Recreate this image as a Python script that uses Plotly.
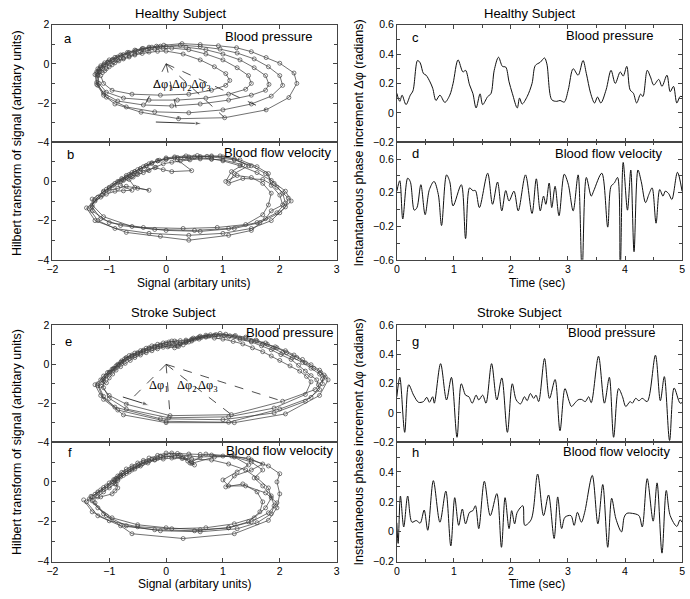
import plotly.graph_objects as go

W, H = 690, 599

# ---------------- Phase portraits (signal, Hilbert transform) ----------------
A_PTS = [  # Healthy, blood pressure
    (-1.15,-0.6),(-1.1,-1.0),(-0.95,-1.35),(-0.6,-1.55),(-0.1,-1.6),(0.4,-1.55),(0.8,-1.35),(1.05,-1.1),(1.12,-0.85),(1.05,-0.5),(0.85,-0.15),(0.6,0.2),(0.3,0.5),(0.0,0.65),(-0.15,0.64),(-0.3,0.6),(-0.42,0.53),(-0.55,0.45),(-0.65,0.35),(-0.75,0.25),(-0.83,0.15),(-0.9,0.05),(-0.95,-0.05),(-1.0,-0.15),(-1.05,-0.25),(-1.08,-0.35),(-1.12,-0.45),
    (-1.2,-0.55),(-1.18,-1.0),(-1.05,-1.45),(-0.75,-1.75),(-0.3,-1.85),(0.2,-1.85),(0.7,-1.75),(1.1,-1.55),(1.4,-1.3),(1.5,-1.0),(1.45,-0.6),(1.25,-0.2),(1.0,0.2),(0.7,0.5),(0.4,0.72),(0.1,0.8),(-0.05,0.79),(-0.2,0.75),(-0.33,0.68),(-0.45,0.6),(-0.55,0.5),(-0.65,0.4),(-0.75,0.3),(-0.85,0.2),(-0.93,0.1),(-1.0,0.0),(-1.06,-0.12),(-1.12,-0.25),(-1.17,-0.4),
    (-1.22,-0.5),(-1.22,-0.95),(-1.1,-1.5),(-0.85,-1.9),(-0.4,-2.1),(0.1,-2.15),(0.6,-2.05),(1.1,-1.85),(1.5,-1.6),(1.75,-1.35),(1.81,-1.05),(1.75,-0.6),(1.55,-0.2),(1.3,0.2),(1.0,0.5),(0.7,0.72),(0.35,0.85),(0.0,0.88),(-0.15,0.85),(-0.3,0.8),(-0.43,0.72),(-0.55,0.62),(-0.67,0.52),(-0.78,0.42),(-0.87,0.31),(-0.95,0.2),(-1.03,0.08),(-1.1,-0.05),(-1.15,-0.17),(-1.18,-0.28),(-1.2,-0.4),
    (-1.2,-0.6),(-1.2,-1.1),(-1.05,-1.7),(-0.7,-2.2),(-0.2,-2.45),(0.4,-2.5),(1.0,-2.35),(1.5,-2.05),(1.85,-1.65),(2.05,-1.1),(2.0,-0.6),(1.8,-0.15),(1.55,0.25),(1.25,0.55),(0.95,0.75),(0.6,0.88),(0.25,0.95),(-0.1,0.9),(-0.25,0.85),(-0.4,0.78),(-0.53,0.68),(-0.65,0.58),(-0.75,0.47),(-0.85,0.35),(-0.94,0.22),(-1.02,0.1),(-1.09,-0.05),(-1.15,-0.2),(-1.18,-0.38),
    (-1.25,-0.55),(-1.22,-1.05),(-1.1,-1.6),(-0.9,-2.05),(-0.44,-2.47),(0.22,-2.8),(1.03,-2.75),(1.76,-2.35),(2.16,-1.72),(2.3,-1.0),(2.25,-0.47),(2.0,0.03),(1.76,0.32),(1.5,0.62),(1.24,0.82),(0.92,0.92),(0.6,0.98),(0.28,1.03),(-0.04,0.95),(-0.17,0.9),(-0.3,0.85),(-0.42,0.78),(-0.55,0.7),(-0.68,0.58),(-0.8,0.45),(-0.9,0.33),(-1.0,0.2),(-1.08,0.05),(-1.15,-0.1),(-1.2,-0.25),(-1.22,-0.4),
]
B_PTS = [  # Healthy, blood flow velocity
    (-1.3,-1.3),(-1.15,-1.9),(-0.8,-2.25),(-0.2,-2.45),(0.5,-2.5),(1.1,-2.4),(1.6,-2.1),(1.95,-1.6),(2.1,-1.1),(2.05,-0.6),(1.9,-0.1),(1.75,0.4),(1.5,0.8),(1.2,1.1),(0.8,1.25),(0.6,1.27),(0.4,1.25),(0.2,1.22),(0.0,1.15),(-0.15,1.05),(-0.3,0.9),(-0.4,0.75),(-0.5,0.6),(-0.6,0.45),(-0.7,0.3),(-0.78,0.15),(-0.85,0.0),(-0.92,-0.18),(-1.0,-0.35),(-1.1,-0.55),(-1.2,-0.8),
    (-1.35,-1.4),(-1.2,-2.0),(-0.9,-2.4),(-0.3,-2.65),(0.4,-2.75),(1.0,-2.65),(1.5,-2.4),(1.85,-2.0),(2.1,-1.3),(2.15,-0.85),(1.95,-0.3),(1.7,0.1),(1.35,0.15),(1.1,-0.1),(1.2,0.4),(1.45,0.8),(1.2,1.15),(1.0,1.25),(0.8,1.3),(0.55,1.32),(0.35,1.3),(0.15,1.25),(0.0,1.2),(-0.12,1.08),(-0.25,0.95),(-0.35,0.8),(-0.45,0.65),(-0.55,0.5),(-0.65,0.35),(-0.7,0.22),(-0.75,0.1),(-0.82,0.0),(-0.9,-0.1),(-1.0,-0.3),(-1.1,-0.5),(-1.25,-0.95),
    (-1.3,-1.2),(-1.1,-1.8),(-0.6,-2.3),(0.0,-2.5),(0.6,-2.55),(1.2,-2.4),(1.65,-2.1),(2.0,-1.6),(2.2,-1.0),(2.1,-0.5),(1.85,0.05),(1.6,0.45),(1.3,0.8),(1.0,1.05),(0.8,1.15),(0.6,1.2),(0.4,1.15),(0.2,1.1),(0.45,0.55),(0.1,0.5),(-0.05,0.6),(-0.2,0.7),(-0.32,0.6),(-0.45,0.5),(-0.52,0.38),(-0.6,0.25),(-0.68,0.15),(-0.75,0.05),(-0.8,-0.2),(-0.6,-0.45),(-0.75,-0.48),(-0.9,-0.5),(-1.05,-0.65),(-1.15,-0.8),
    (-1.4,-1.35),(-1.25,-2.0),(-0.7,-2.6),(-0.1,-2.8),(0.4,-3.0),(1.1,-2.75),(1.5,-2.5),(1.75,-1.9),(1.85,-1.5),(2.05,-1.2),(2.0,-0.7),(1.85,-0.2),(1.8,0.4),(1.6,0.75),(1.3,1.1),(0.95,1.3),(0.72,1.28),(0.5,1.25),(0.32,1.22),(0.15,1.2),(0.0,1.12),(-0.15,1.05),(-0.25,0.92),(-0.35,0.8),(-0.45,0.65),(-0.55,0.5),(-0.62,0.35),(-0.7,0.2),(-0.78,0.08),(-0.85,-0.05),(-0.95,-0.22),(-1.05,-0.4),(-1.3,-0.9),
    (-1.3,-1.5),(-1.0,-2.1),(-0.4,-2.35),(0.3,-2.4),(0.9,-2.35),(1.4,-2.2),(1.7,-1.7),(1.8,-1.2),(1.85,-0.6),(1.7,-0.1),(1.5,0.2),(1.25,0.3),(1.05,0.0),(1.15,0.5),(1.35,0.85),(1.0,1.1),(0.8,1.13),(0.6,1.15),(0.42,1.1),(0.25,1.05),(0.1,0.98),(-0.05,0.9),(-0.18,0.72),(-0.3,0.55),(-0.4,0.45),(-0.5,0.35),(-0.58,0.22),(-0.65,0.1),(-0.55,-0.3),(-0.3,-0.45),(-0.5,-0.35),(-0.7,-0.25),(-0.85,-0.35),(-1.0,-0.45),(-1.12,-0.7),(-1.25,-1.0),
]
E_PTS = [  # Stroke, blood pressure
    (-1.15,-1.1),(-1.0,-1.6),(-0.7,-2.05),(0.07,-2.64),(1.15,-2.59),(2.05,-1.9),(2.62,-1.3),(2.8,-0.65),(2.72,-0.42),(2.6,-0.2),(2.45,0.08),(2.3,0.35),(2.12,0.6),(1.95,0.85),(1.78,1.03),(1.6,1.2),(1.4,1.33),(1.2,1.45),(1.02,1.48),(0.85,1.5),(0.7,1.43),(0.55,1.35),(0.45,1.25),(0.35,1.15),(0.2,0.95),(0.12,1.0),(0.05,1.05),(-0.05,0.98),(-0.15,0.9),(-0.25,0.8),(-0.35,0.7),(-0.45,0.58),(-0.55,0.45),(-0.65,0.3),(-0.75,0.15),(-0.83,-0.02),(-0.9,-0.2),(-0.98,-0.4),(-1.05,-0.6),(-1.1,-0.85),
    (-1.2,-1.0),(-1.1,-1.65),(-0.85,-2.35),(0.0,-2.93),(1.1,-2.98),(2.0,-2.3),(2.55,-1.7),(2.75,-1.0),(2.75,-0.75),(2.7,-0.5),(2.55,-0.2),(2.4,0.1),(2.22,0.35),(2.05,0.6),(1.88,0.83),(1.7,1.05),(1.5,1.2),(1.3,1.35),(1.12,1.47),(0.95,1.59),(0.78,1.52),(0.6,1.45),(0.48,1.35),(0.35,1.25),(0.25,1.22),(0.15,1.2),(0.05,1.15),(-0.05,1.1),(-0.15,1.03),(-0.25,0.95),(-0.35,0.83),(-0.45,0.7),(-0.55,0.58),(-0.65,0.45),(-0.73,0.28),(-0.8,0.1),(-0.88,-0.08),(-0.95,-0.25),(-1.03,-0.42),(-1.1,-0.6),(-1.15,-0.8),
    (-1.25,-1.05),(-1.15,-1.6),(-0.9,-2.2),(-0.1,-2.8),(1.0,-2.85),(1.9,-2.5),(2.45,-1.9),(2.7,-1.3),(2.68,-1.05),(2.65,-0.8),(2.55,-0.58),(2.45,-0.35),(2.33,-0.05),(2.2,0.25),(2.02,0.5),(1.85,0.75),(1.68,0.95),(1.5,1.15),(1.3,1.28),(1.1,1.4),(0.92,1.43),(0.75,1.45),(0.62,1.38),(0.5,1.3),(0.4,1.15),(0.3,1.0),(0.22,0.92),(0.15,0.85),(0.03,0.9),(-0.1,0.95),(-0.2,0.88),(-0.3,0.8),(-0.4,0.68),(-0.5,0.55),(-0.6,0.42),(-0.7,0.3),(-0.78,0.12),(-0.85,-0.05),(-0.93,-0.25),(-1.0,-0.45),(-1.1,-0.75),
    (-1.1,-1.2),(-1.0,-1.75),(-0.7,-2.3),(0.05,-2.75),(1.1,-2.7),(1.9,-2.25),(2.45,-1.55),(2.55,-0.9),(2.47,-0.62),(2.35,-0.35),(2.18,-0.08),(2.0,0.2),(1.85,0.43),(1.7,0.65),(1.52,0.85),(1.35,1.05),(1.18,1.18),(1.0,1.3),(0.85,1.35),(0.7,1.4),(0.58,1.3),(0.45,1.2),(0.35,1.12),(0.25,1.05),(0.15,1.0),(0.05,0.95),(-0.05,0.88),(-0.15,0.8),(-0.25,0.7),(-0.35,0.6),(-0.45,0.48),(-0.55,0.35),(-0.63,0.2),(-0.72,0.05),(-0.8,-0.12),(-0.88,-0.3),(-0.94,-0.5),(-1.0,-0.7),(-1.05,-0.95),
    (-1.2,-1.1),(-1.1,-1.8),(-0.75,-2.6),(0.0,-3.0),(1.2,-3.0),(2.1,-2.55),(2.7,-1.6),(2.85,-0.8),(2.78,-0.55),(2.7,-0.3),(2.55,-0.02),(2.4,0.25),(2.25,0.48),(2.1,0.7),(1.92,0.9),(1.75,1.1),(1.58,1.25),(1.4,1.4),(1.22,1.48),(1.05,1.55),(0.88,1.53),(0.7,1.5),(0.58,1.4),(0.45,1.3),(0.35,1.2),(0.25,1.1),(0.18,1.15),(0.1,1.2),(0.0,1.1),(-0.1,1.0),(-0.2,0.93),(-0.3,0.85),(-0.4,0.73),(-0.5,0.6),(-0.6,0.48),(-0.7,0.35),(-0.78,0.18),(-0.85,0.0),(-0.92,-0.2),(-1.0,-0.4),(-1.06,-0.6),(-1.12,-0.8),
]
F_PTS = [  # Stroke, blood flow velocity
    (-1.45,-0.9),(-1.3,-1.5),(-1.0,-1.95),(-0.5,-2.25),(0.1,-2.35),(0.7,-2.3),(1.2,-2.1),(1.55,-1.8),(1.75,-1.3),(1.85,-0.8),(1.8,-0.3),(1.6,0.2),(1.4,0.6),(1.1,0.9),(0.8,1.1),(0.45,1.15),(0.28,1.18),(0.1,1.2),(-0.05,1.15),(-0.2,1.1),(-0.32,0.95),(-0.45,0.8),(-0.55,0.65),(-0.65,0.5),(-0.75,0.33),(-0.85,0.15),(-0.92,-0.02),(-1.0,-0.2),(-1.1,-0.38),(-1.2,-0.55),(-1.32,-0.72),
    (-1.4,-1.0),(-1.2,-1.7),(-0.8,-2.2),(-0.2,-2.4),(0.5,-2.45),(1.1,-2.3),(1.5,-2.0),(1.8,-1.55),(1.95,-1.05),(1.75,-0.55),(1.4,-0.2),(1.1,-0.2),(1.0,0.1),(1.25,0.5),(1.45,0.85),(1.2,1.25),(0.8,1.35),(0.6,1.38),(0.4,1.4),(0.2,1.43),(0.0,1.45),(-0.15,1.33),(-0.3,1.2),(-0.4,1.08),(-0.5,0.95),(-0.6,0.8),(-0.7,0.65),(-0.78,0.48),(-0.85,0.3),(-0.92,0.12),(-1.0,-0.05),(-1.1,-0.28),(-1.2,-0.5),(-1.3,-0.75),
    (-1.3,-0.95),(-1.1,-1.6),(-0.6,-2.6),(0.3,-2.84),(1.2,-2.6),(1.8,-1.93),(1.95,-1.3),(2.0,-0.6),(1.95,0.0),(2.0,0.41),(1.8,0.8),(1.5,1.1),(1.2,1.3),(0.85,1.25),(0.45,0.93),(0.38,1.05),(0.3,1.2),(0.15,1.25),(0.0,1.3),(-0.15,1.18),(-0.3,1.05),(-0.42,0.9),(-0.55,0.75),(-0.65,0.6),(-0.75,0.45),(-0.82,0.28),(-0.9,0.1),(-0.88,-0.1),(-0.85,-0.3),(-0.9,-0.45),(-0.95,-0.6),(-1.15,-0.75),
    (-1.35,-0.85),(-1.2,-1.3),(-0.95,-1.8),(-0.5,-2.15),(0.0,-2.3),(0.6,-2.4),(1.1,-2.3),(1.45,-2.0),(1.65,-1.5),(1.7,-1.0),(1.6,-0.5),(1.35,-0.1),(1.05,-0.25),(1.2,0.3),(1.5,0.6),(1.7,0.9),(1.45,1.2),(1.0,1.3),(0.6,1.25),(0.42,1.3),(0.25,1.35),(0.1,1.3),(-0.05,1.25),(-0.2,1.12),(-0.35,1.0),(-0.48,0.85),(-0.6,0.7),(-0.7,0.52),(-0.8,0.35),(-0.88,0.18),(-0.95,0.0),(-1.05,-0.2),(-1.15,-0.4),(-1.25,-0.62),
    (-1.25,-1.05),(-1.05,-1.7),(-0.7,-2.2),(-0.1,-2.45),(0.6,-2.5),(1.25,-2.35),(1.6,-2.05),(1.85,-1.6),(1.9,-1.2),(1.85,-0.7),(1.7,-0.2),(1.55,0.2),(1.7,0.6),(1.5,1.0),(1.15,1.3),(0.7,1.4),(0.45,1.0),(0.5,0.85),(0.42,0.95),(0.35,1.2),(0.22,1.33),(0.1,1.45),(-0.1,1.3),(-0.25,1.15),(-0.4,1.0),(-0.5,0.8),(-0.6,0.6),(-0.7,0.42),(-0.8,0.25),(-0.85,0.08),(-0.9,-0.1),(-1.0,-0.3),(-1.1,-0.5),(-1.2,-0.75),
]

# radial dashed lines (phase increments) from the origin to successive samples
A_RAY_X = [-0.44, 0.22, 1.03, 1.76]
A_RAY_Y = [-2.47, -2.80, -2.75, -2.35]
E_RAY_X = [-0.70, 0.07, 1.15, 2.05]
E_RAY_Y = [-2.05, -2.64, -2.59, -1.90]

# direction-of-rotation arrows (tail, head)
A_ARROW_X = [-0.18, 0.63]
A_ARROW_Y = [-2.97, -3.05]
E_ARROW_X = [-0.76, -0.30]
E_ARROW_Y = [-1.68, -2.10]

# ---------------- Instantaneous phase increments vs time ----------------
C_T = [0.000,0.052,0.092,0.161,0.236,0.283,0.363,0.409,0.467,0.513,0.582,0.629,0.686,0.755,0.842,0.928,0.986,1.073,1.159,1.205,1.275,1.332,1.390,1.459,1.505,1.592,1.649,1.707,1.782,1.851,1.909,1.967,2.024,2.111,2.151,2.197,2.284,2.370,2.428,2.514,2.589,2.630,2.716,2.803,2.860,2.935,3.005,3.091,3.178,3.264,3.322,3.397,3.466,3.518,3.576,3.668,3.755,3.829,3.916,3.968,4.031,4.089,4.147,4.204,4.273,4.314,4.389,4.446,4.504,4.591,4.648,4.735,4.792,4.850,4.908,4.965,5.000]
C_V = [0.133,0.078,0.12,0.056,0.12,0.15,0.356,0.34,0.267,0.256,0.21,0.167,0.084,0.12,0.071,0.12,0.2,0.36,0.278,0.289,0.19,0.133,0.033,0.129,0.056,0.11,0.13,0.289,0.378,0.316,0.311,0.211,0.133,0.033,0.1,0.06,0.11,0.2,0.322,0.344,0.373,0.333,0.089,0.078,0.084,0.073,0.156,0.3,0.256,0.356,0.267,0.133,0.067,0.107,0.067,0.156,0.289,0.2,0.278,0.25,0.316,0.156,0.133,0.067,0.127,0.111,0.289,0.244,0.189,0.227,0.18,0.256,0.144,0.18,0.067,0.111,0.11]

D_T = [0.000,0.052,0.104,0.190,0.236,0.306,0.352,0.421,0.496,0.571,0.652,0.727,0.784,0.871,0.928,0.986,1.130,1.205,1.275,1.332,1.378,1.447,1.592,1.678,1.765,1.840,1.909,1.967,2.053,2.128,2.255,2.370,2.445,2.514,2.572,2.612,2.670,2.716,2.774,2.843,2.935,3.005,3.091,3.178,3.247,3.322,3.408,3.449,3.593,3.697,3.755,3.812,3.870,3.916,3.968,4.043,4.101,4.158,4.227,4.285,4.360,4.418,4.475,4.544,4.608,4.666,4.706,4.763,4.821,4.919,5.000]
D_V = [0.217,0.341,-0.114,0.372,0.33,-0.009,0.02,0.294,-0.063,0.236,0.333,0.178,-0.192,0.411,0.33,0.042,0.294,-0.347,0.256,0.224,0.224,0.022,0.431,0.061,0.326,-0.017,0.224,0.1,0.217,-0.017,0.411,-0.048,0.364,-0.017,0.158,0.061,0.314,0.022,0.275,-0.075,0.419,0.3,-0.017,0.411,-0.75,0.38,0.158,0.217,0.431,-0.211,0.275,0.314,0.38,-0.75,0.559,-0.009,0.469,-0.503,0.469,0.33,0.081,0.178,0.256,-0.164,0.236,0.158,0.217,0.19,0.119,0.442,0.217]

G_T = [0.000,0.052,0.138,0.208,0.294,0.381,0.467,0.525,0.571,0.629,0.657,0.767,0.871,0.957,1.055,1.130,1.205,1.263,1.321,1.390,1.436,1.505,1.563,1.661,1.753,1.840,1.938,2.024,2.093,2.168,2.238,2.284,2.341,2.399,2.439,2.486,2.589,2.676,2.774,2.860,2.947,3.022,3.062,3.120,3.178,3.235,3.304,3.362,3.408,3.535,3.639,3.725,3.800,3.887,3.956,4.014,4.089,4.129,4.187,4.244,4.302,4.389,4.533,4.619,4.689,4.781,4.861,4.965,5.000]
G_V = [0.111,0.244,-0.133,0.193,0.122,0.073,0.078,0.107,0.073,0.111,0.067,0.338,0.089,0.244,-0.167,0.2,0.122,0.111,0.067,0.122,0.089,0.122,0.067,0.338,0.089,0.24,-0.133,0.2,0.089,0.062,0.111,0.084,0.133,0.1,0.122,0.078,0.373,0.1,0.229,-0.122,0.167,0.078,0.044,0.067,0.09,0.093,0.078,0.111,0.071,0.389,0.067,0.244,-0.167,0.167,0.111,0.044,0.078,0.067,0.1,0.084,0.1,0.078,0.396,0.084,0.249,-0.189,0.171,0.067,0.071]

H_T = [0.000,0.023,0.063,0.121,0.190,0.265,0.340,0.409,0.479,0.542,0.640,0.755,0.859,0.946,1.015,1.084,1.148,1.205,1.275,1.332,1.378,1.436,1.534,1.638,1.753,1.834,1.897,1.967,2.013,2.065,2.111,2.209,2.243,2.353,2.468,2.572,2.659,2.757,2.820,2.889,2.947,3.051,3.108,3.166,3.235,3.293,3.426,3.524,3.610,3.697,3.766,3.841,3.939,3.985,4.031,4.129,4.244,4.302,4.389,4.493,4.562,4.648,4.723,4.792,4.908,4.965,5.000]
H_V = [0.06,-0.078,0.239,0.032,0.239,0.064,0.075,0.058,0.145,0.01,0.342,0.064,0.272,-0.095,0.228,0.043,0.152,0.053,0.13,0.141,0.174,0.021,0.338,0.108,0.255,-0.104,0.228,0.021,0.141,0.053,0.13,0.174,0.043,0.08,0.386,0.108,0.246,-0.045,0.233,0.021,0.097,0.108,0.043,0.13,0.064,0.13,0.377,0.053,0.316,-0.104,0.224,0.086,-0.001,0.097,0.123,0.123,0.108,0.032,0.355,0.071,0.327,-0.143,0.276,0.108,0.036,0.08,0.064]

FONT = "Liberation Sans, Arial, Helvetica, sans-serif"
SERIF = "Liberation Serif, Times New Roman, serif"


def px(x):
    return x / W


def py(y):
    return 1 - y / H


fig = go.Figure()

LEFT_X = (47, 335)
RIGHT_X = (396, 685)
ROWS = {"a": (19, 139), "b": (139, 259), "e": (326, 445), "f": (445, 567),
        "c": (19, 139), "d": (139, 259), "g": (326, 445), "h": (445, 567)}
axis_ids = {"a": 1, "b": 2, "c": 3, "d": 4, "e": 5, "f": 6, "g": 7, "h": 8}


def ref(k, kind):
    n = axis_ids[k]
    return kind if n == 1 else f"{kind}{n}"


def lname(k, kind):
    n = axis_ids[k]
    return f"{kind}axis" if n == 1 else f"{kind}axis{n}"


base = dict(showline=True, mirror="ticks", linecolor="#444", linewidth=1,
            ticks="inside", ticklen=4, tickcolor="#444", showgrid=False,
            zeroline=False, tickfont=dict(family=FONT, size=10.5, color="black"))

layout_axes = {}
for k in "abef":
    top, bot = ROWS[k]
    xa = dict(base, domain=[px(LEFT_X[0]), px(LEFT_X[1])], range=[-2, 3],
              tickvals=[-2, -1, 0, 1, 2, 3], anchor=ref(k, "y"),
              showticklabels=k in "bf")
    yv = [-4, -2, 0, 2] if k in "ae" else [-4, -2, 0]
    ya = dict(base, domain=[py(bot), py(top)], range=[-4, 2], tickvals=yv,
              anchor=ref(k, "x"),
              minor=dict(tickvals=[-3, -1, 1], ticks="inside", ticklen=3, tickcolor="#444"))
    layout_axes[lname(k, "x")] = xa
    layout_axes[lname(k, "y")] = ya

for k in "cdgh":
    top, bot = ROWS[k]
    xa = dict(base, domain=[px(RIGHT_X[0]), px(RIGHT_X[1])], range=[0, 5],
              tickvals=[0, 1, 2, 3, 4, 5], anchor=ref(k, "y"),
              showticklabels=k in "dh",
              minor=dict(tickvals=[0.5, 1.5, 2.5, 3.5, 4.5], ticks="inside", ticklen=3, tickcolor="#444"))
    if k == "d":
        yr, yv, ym = [-0.6, 0.8], [-0.6, -0.2, 0.2, 0.6], [-0.4, 0, 0.4]
    elif k == "h":
        yr, yv, ym = [-0.2, 0.6], [-0.2, 0, 0.2, 0.4], [-0.1, 0.1, 0.3, 0.5]
    else:
        yr, yv, ym = [-0.2, 0.6], [-0.2, 0, 0.2, 0.4, 0.6], [-0.1, 0.1, 0.3, 0.5]
    ya = dict(base, domain=[py(bot), py(top)], range=yr, tickvals=yv,
              ticktext=[f"{v:g}".replace("-", "\u2212") for v in yv],
              anchor=ref(k, "x"),
              minor=dict(tickvals=ym, ticks="inside", ticklen=3, tickcolor="#444"))
    layout_axes[lname(k, "x")] = xa
    layout_axes[lname(k, "y")] = ya

# phase portraits
for k, pts in (("a", A_PTS), ("b", B_PTS), ("e", E_PTS), ("f", F_PTS)):
    xs = [p[0] for p in pts]
    ys = [p[1] for p in pts]
    fig.add_trace(go.Scatter(
        x=xs, y=ys, mode="lines+markers", xaxis=ref(k, "x"), yaxis=ref(k, "y"),
        line=dict(color="#333", width=0.7),
        marker=dict(symbol="circle-open", size=4, color="#444", line=dict(width=0.7)),
        showlegend=False, hoverinfo="skip"))

for k, rx, ry in (("a", A_RAY_X, A_RAY_Y), ("e", E_RAY_X, E_RAY_Y)):
    for xx, yy in zip(rx, ry):
        fig.add_trace(go.Scatter(
            x=[0, xx], y=[0, yy], mode="lines", xaxis=ref(k, "x"), yaxis=ref(k, "y"),
            line=dict(color="#222", width=0.8, dash="dash"),
            showlegend=False, hoverinfo="skip"))

for k, ax_, ay_ in (("a", A_ARROW_X, A_ARROW_Y), ("e", E_ARROW_X, E_ARROW_Y)):
    fig.add_trace(go.Scatter(
        x=ax_, y=ay_, mode="lines+markers", xaxis=ref(k, "x"), yaxis=ref(k, "y"),
        line=dict(color="#222", width=0.9),
        marker=dict(symbol="arrow", size=[0, 7], angleref="previous", color="#222"),
        showlegend=False, hoverinfo="skip"))

# phase increment series
for k, t, v in (("c", C_T, C_V), ("d", D_T, D_V), ("g", G_T, G_V), ("h", H_T, H_V)):
    fig.add_trace(go.Scatter(
        x=t, y=v, mode="lines", xaxis=ref(k, "x"), yaxis=ref(k, "y"),
        line=dict(color="#111", width=1, shape="spline", smoothing=0.9),
        showlegend=False, hoverinfo="skip"))

ann = []


def text(xp, yp, s, size=13, xanchor="center", angle=0, family=FONT):
    ann.append(dict(x=px(xp), y=py(yp), xref="paper", yref="paper", text=s,
                    showarrow=False, xanchor=xanchor, yanchor="middle",
                    textangle=angle, font=dict(family=family, size=size, color="black")))


text(177, 8, "Healthy Subject")
text(530, 8, "Healthy Subject")
text(170, 313, "Stroke Subject")
text(520, 313, "Stroke Subject")

for lab, (xp, yp) in {"a": (63, 33), "b": (65, 152), "c": (415, 32), "d": (415, 151),
                      "e": (63, 342), "f": (65, 456), "g": (415, 342), "h": (415, 456)}.items():
    text(xp, yp, lab)

text(312, 31, "Blood pressure", xanchor="right")
text(331, 150, "Blood flow velocity", xanchor="right")
text(658, 30, "Blood pressure", xanchor="right")
text(667, 151, "Blood flow velocity", xanchor="right")
text(333, 333, "Blood pressure", xanchor="right")
text(333, 454, "Blood flow velocity", xanchor="right")
text(660, 333, "Blood pressure", xanchor="right")
text(675, 455, "Blood flow velocity", xanchor="right")

text(190, 283, "Signal (arbitary units)", size=12)
text(191, 590, "Signal (arbitary units)", size=12)
text(538, 283, "Time (sec)", size=12)
text(538, 590, "Time (sec)", size=12)
text(11, 140, "Hilbert transform of signal (arbitary units)", size=12.5, angle=-90)
text(11, 445, "Hilbert transform of signal (arbitary units)", size=12.5, angle=-90)
text(358, 140, "Instantaneous phase increment \u0394\u03c6 (radians)", size=12.5, angle=-90)
text(358, 445, "Instantaneous phase increment \u0394\u03c6 (radians)", size=12.5, angle=-90)

# delta-phi labels in data coordinates
for k, xs, yv in (("a", [-0.06, 0.28, 0.62], -1.1), ("e", [-0.13, 0.36, 0.74], -1.1)):
    for i, xx in enumerate(xs):
        ann.append(dict(x=xx, y=yv, xref=ref(k, "x"), yref=ref(k, "y"),
                        text=f"\u0394\u03c6<sub>{i+1}</sub>", showarrow=False,
                        font=dict(family=SERIF, size=12.5, color="black")))

fig.update_layout(width=W, height=H, margin=dict(l=0, r=0, t=0, b=0),
                  paper_bgcolor="white", plot_bgcolor="white",
                  annotations=ann, **layout_axes)

fig.write_html("out.html", config={"displayModeBar": False},
               post_script="document.body.style.margin='0';")
